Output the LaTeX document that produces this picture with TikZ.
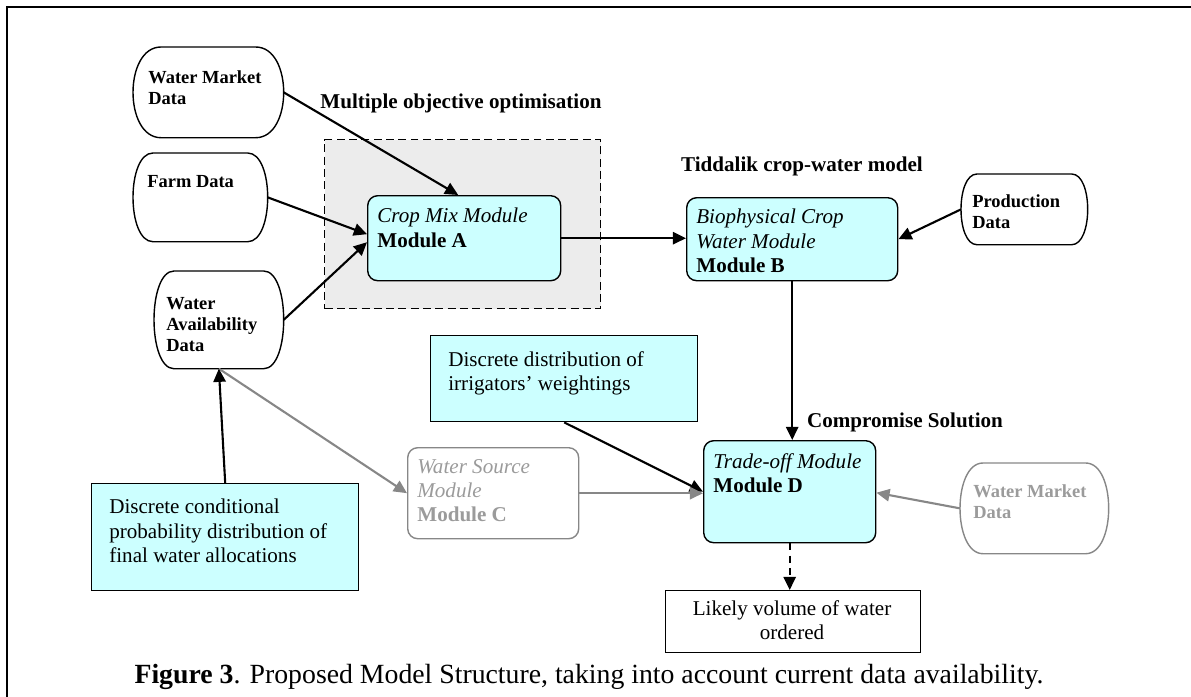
\documentclass[tikz,border=0pt]{standalone}
\usepackage{fontspec}
\setmainfont{Liberation Serif}
\usetikzlibrary{arrows.meta,calc}
\definecolor{cy}{RGB}{204,255,255}
\definecolor{gline}{RGB}{135,135,135}
\definecolor{gtext}{RGB}{155,155,155}
\definecolor{optfill}{RGB}{236,236,236}
\newcommand\dshape[3][black]{% colour, node, radius
  \draw[#1, line width=0.8pt] ($(#2.north west)+(#3,0)$) -- ($(#2.north east)+(-#3,0)$)
    .. controls +(1.333*#3,0) and +(1.333*#3,0) .. ($(#2.south east)+(-#3,0)$)
    -- ($(#2.south west)+(#3,0)$)
    .. controls +(-1.333*#3,0) and +(-1.333*#3,0) .. ($(#2.north west)+(#3,0)$) -- cycle;}
\tikzset{
  wh/.style 2 args={minimum width=#1*0.02cm, minimum height=#2*0.02cm},
  conn/.style={line width=1.2pt, -{Triangle[length=7.5pt,width=7pt]}},
  gconn/.style={conn, draw=gline, fill=gline},
  modbox/.style={draw, line width=0.8pt, fill=cy, rounded corners=0.2cm, inner sep=0, anchor=north west},
  gmodbox/.style={draw=gline, line width=0.8pt, fill=white, rounded corners=0.2cm, inner sep=0, anchor=north west},
  sqbox/.style={draw, line width=0.8pt, fill=cy, inner sep=0, anchor=north west},
  datbox/.style={inner sep=0, anchor=north west},
  dtxt/.style={inner sep=0, anchor=north west, align=left, font=\fontsize{10.5}{12}\selectfont\bfseries},
  mtxt/.style={inner sep=0, anchor=north west, align=left, font=\fontsize{12}{13.8}\selectfont},
  head/.style={inner sep=0, font=\fontsize{12}{13.8}\selectfont\bfseries},
}
\begin{document}
\begin{tikzpicture}[x=0.02cm, y=-0.02cm]
\useasboundingbox (0,0) rectangle (1191,697);
% frame
\draw[line width=1.2pt] (1191,7) -- (7,7) -- (7,697);

% optimisation region
\node[draw, dashed, dash pattern=on 4.5pt off 2.5pt, fill=optfill, line width=0.8pt, inner sep=0, anchor=north west, wh={276}{169}] (opt) at (324,139) {};

% data nodes
\node[datbox, wh={150}{90}] (wmd1) at (133,47) {};
\dshape{wmd1}{28}
\node[dtxt] (wmd1t) at (148,70) {Water Market\\Data};

\node[datbox, wh={134}{88}] (farm) at (133,153) {};
\dshape{farm}{20}
\node[dtxt] (farmt) at (147,175) {Farm Data};

\node[datbox, wh={129}{97}] (wad) at (154,271) {};
\dshape{wad}{20}
\node[dtxt] (wadt) at (166,297) {Water\\Availability\\Data};

\node[datbox, wh={126}{70}] (prod) at (961,174) {};
\dshape{prod}{16}
\node[dtxt] (prodt) at (972,194) {Production\\Data};

\node[datbox, wh={148}{90}] (wmd2) at (960,463) {};
\dshape[gline]{wmd2}{23}
\node[dtxt, text=gtext] (wmd2t) at (973,484) {Water Market\\Data};

% modules
\node[modbox, wh={193}{85}] (A) at (367,195) {};
\node[mtxt] (At) at (377,208) {\textit{Crop Mix Module}\\\textbf{Module A}};

\node[modbox, wh={211}{83}] (B) at (686,197) {};
\node[mtxt] (Bt) at (696,209) {\textit{Biophysical Crop}\\\textit{Water Module}\\\textbf{Module B}};

\node[gmodbox, wh={171}{91}] (C) at (407,447) {};
\node[mtxt, text=gtext] (Ct) at (417,459) {\textit{Water Source}\\\textit{Module}\\\textbf{Module C}};

\node[modbox, wh={172}{102}] (D) at (703,440) {};
\node[mtxt] (Dt) at (713,453) {\textit{Trade-off Module}\\\textbf{Module D}};

% square boxes
\node[sqbox, wh={267}{86}] (dd) at (430,335) {};
\node[mtxt] (ddt) at (448,351) {Discrete distribution of\\irrigators' weightings};

\node[sqbox, wh={267}{107}] (dc) at (91,483) {};
\node[mtxt] (dct) at (109,499) {Discrete conditional\\probability distribution of\\final water allocations};

\node[draw, line width=0.8pt, fill=white, inner sep=0, anchor=north west, wh={255}{62}] (L) at (665,590) {};
\node[mtxt, anchor=north, align=center] (Lt) at (792,600) {Likely volume of water\\ordered};

% headings
\node[head] (h1) at (461,103) {Multiple objective optimisation};
\node[head] (h2) at (802,166) {Tiddalik crop-water model};
\node[head] (h3) at (905,422) {Compromise Solution};

% connectors
\draw[conn] (wmd1.east) -- ($(A.north)+(-6,0)$);
\draw[conn] (farm.east) -- ($(A.west)+(0,-4)$);
\draw[conn] (wad.east) -- ($(A.west)+(0,4)$);
\draw[conn] (A.east) -- (A.east -| B.west);
\draw[conn] (prod.west) -- (B.east);
\draw[conn] (B.south) -- (B.south |- D.north);
\draw[gconn] (wmd2.west) -- ($(D.east)+(0,1)$);
\draw[conn] (dd.south) -- (D.west);
\draw[gconn] (C.east) -- (C.east -| D.west);
\draw[gconn] (wad.south) -- (C.west);
\draw[conn] (dc.north) -- (wad.south);
\draw[conn, dash pattern=on 4pt off 3pt] (D.south) -- (D.south |- L.north);

% caption
\node[inner sep=0, font=\fontsize{15.8}{18}\selectfont] (cap) at (589,677) {\textbf{Figure 3}. Proposed Model Structure, taking into account current data availability.};
\end{tikzpicture}
\end{document}
